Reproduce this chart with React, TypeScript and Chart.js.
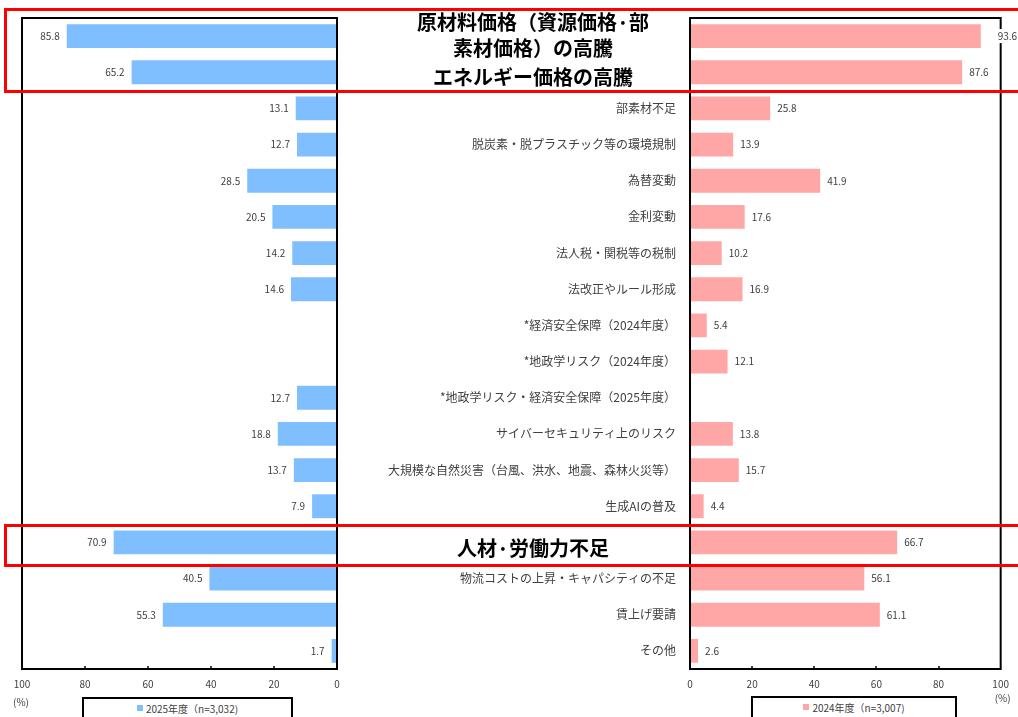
import { useEffect, useRef } from 'react';
import { Chart, registerables } from 'chart.js';

Chart.register(...registerables);

const categories = [
  '原材料価格（資源価格·部素材価格）の高騰',
  'エネルギー価格の高騰',
  '部素材不足',
  '脱炭素・脱プラスチック等の環境規制',
  '為替変動',
  '金利変動',
  '法人税・関税等の税制',
  '法改正やルール形成',
  '*経済安全保障（2024年度）',
  '*地政学リスク（2024年度）',
  '*地政学リスク・経済安全保障（2025年度）',
  'サイバーセキュリティ上のリスク',
  '大規模な自然災害（台風、洪水、地震、森林火災等）',
  '生成AIの普及',
  '人材·労働力不足',
  '物流コストの上昇・キャパシティの不足',
  '賃上げ要請',
  'その他',
];

const values2025: (number | null)[] = [85.8, 65.2, 13.1, 12.7, 28.5, 20.5, 14.2, 14.6, null, null, 12.7, 18.8, 13.7, 7.9, 70.9, 40.5, 55.3, 1.7];
const values2024: (number | null)[] = [93.6, 87.6, 25.8, 13.9, 41.9, 17.6, 10.2, 16.9, 5.4, 12.1, null, 13.8, 15.7, 4.4, 66.7, 56.1, 61.1, 2.6];

const highlightedRows = [0, 1, 14];
const wrappedLabels: Record<number, string[]> = {
  0: ['原材料価格（資源価格·部', '素材価格）の高騰'],
};

const legend2025 = '2025年度（n=3,032)';
const legend2024 = '2024年度（n=3,007)';
const axisUnit = '(%)';
const axisMin = 0;
const axisMax = 100;
const axisStep = 20;

const BLUE = '#80BFFF';
const PINK = '#FFA7A7';
const TEXT = '#404040';
const FONT = '"Noto Sans CJK JP", "Noto Sans", sans-serif';

const W = 1018;
const H = 717;

function framePlugin(unitPos: 'left' | 'right') {
  return {
    id: 'frame-' + unitPos,
    afterDraw(chart: any) {
      const { ctx, chartArea } = chart;
      const xs = chart.scales.x;
      ctx.save();
      ctx.strokeStyle = '#000';
      ctx.lineWidth = 2;
      ctx.strokeRect(chartArea.left, chartArea.top, chartArea.right - chartArea.left, chartArea.bottom - chartArea.top);
      ctx.lineWidth = 1.5;
      xs.ticks.forEach((t: any) => {
        if (t.value === axisMin || t.value === axisMax) return;
        const px = Math.round(xs.getPixelForValue(t.value));
        ctx.beginPath();
        ctx.moveTo(px, chartArea.bottom);
        ctx.lineTo(px, chartArea.bottom - 3);
        ctx.stroke();
      });
      ctx.fillStyle = TEXT;
      ctx.font = `10px ${FONT}`;
      ctx.textAlign = 'center';
      ctx.textBaseline = 'middle';
      if (unitPos === 'left') {
        ctx.fillText(axisUnit, chartArea.left - 1, chartArea.bottom + 33);
      } else {
        ctx.fillText(axisUnit, chartArea.right + 2, chartArea.bottom + 29);
      }
      ctx.restore();
    },
  };
}

function dataLabelPlugin(side: 'left' | 'right') {
  return {
    id: 'datalabels-' + side,
    afterDraw(chart: any) {
      const { ctx, chartArea } = chart;
      const meta = chart.getDatasetMeta(0);
      const data = chart.data.datasets[0].data;
      ctx.save();
      ctx.font = `10px ${FONT}`;
      ctx.textBaseline = 'middle';
      meta.data.forEach((bar: any, i: number) => {
        const v = data[i];
        if (v === null || v === undefined) return;
        const label = v.toFixed(1);
        const w = ctx.measureText(label).width;
        if (side === 'left') {
          ctx.textAlign = 'right';
          ctx.fillStyle = TEXT;
          ctx.fillText(label, bar.x - 7, bar.y);
        } else {
          let x = bar.x + 7;
          ctx.textAlign = 'left';
          if (x + w > chartArea.right - 2) {
            x = Math.max(x, chartArea.right - 3);
            ctx.fillStyle = '#fff';
            ctx.fillRect(x - 1, bar.y - 7, w + 2, 14);
          }
          ctx.fillStyle = TEXT;
          ctx.fillText(label, x, bar.y);
        }
      });
      ctx.restore();
    },
  };
}

const categoryLabelPlugin = {
  id: 'categoryLabels',
  afterDraw(chart: any) {
    const { ctx, chartArea } = chart;
    const ys = chart.scales.y;
    ctx.save();
    ctx.textBaseline = 'middle';
    categories.forEach((cat, i) => {
      const y = ys.getPixelForValue(i);
      if (highlightedRows.includes(i)) {
        ctx.font = `bold 20px ${FONT}`;
        ctx.fillStyle = '#000';
        ctx.textAlign = 'center';
        const cx = chartArea.left - 157;
        const lines = wrappedLabels[i];
        if (lines) {
          ctx.fillText(lines[0], cx, y - 13.5);
          ctx.fillText(lines[1], cx, y + 12.5);
        } else {
          ctx.fillText(cat, cx, y + 5.5);
        }
      } else {
        ctx.font = `12px ${FONT}`;
        ctx.fillStyle = TEXT;
        ctx.textAlign = 'right';
        ctx.fillText(cat, chartArea.left - 14, y);
      }
    });
    ctx.restore();
  },
};

function makeConfig(values: (number | null)[], color: string, reverse: boolean, padding: any, plugins: any[]) {
  return {
    type: 'bar' as const,
    data: {
      labels: categories,
      datasets: [
        {
          data: values,
          backgroundColor: color,
          borderWidth: 0,
          barPercentage: 0.66,
          categoryPercentage: 1,
        },
      ],
    },
    options: {
      indexAxis: 'y' as const,
      animation: false as const,
      responsive: false,
      devicePixelRatio: 1,
      events: [],
      layout: { padding },
      plugins: {
        legend: { display: false },
        tooltip: { enabled: false },
      },
      scales: {
        x: {
          min: axisMin,
          max: axisMax,
          reverse,
          grid: { display: false, drawTicks: false },
          border: { display: false },
          ticks: {
            stepSize: axisStep,
            padding: 9,
            maxRotation: 0,
            color: TEXT,
            font: { family: FONT, size: 10 },
          },
          afterFit: (scale: any) => {
            scale.height = 48;
          },
        },
        y: { display: false },
      },
    },
    plugins,
  };
}

export default function App() {
  const leftRef = useRef<HTMLCanvasElement>(null);
  const rightRef = useRef<HTMLCanvasElement>(null);

  useEffect(() => {
    const left = new Chart(
      leftRef.current!,
      makeConfig(values2025, BLUE, true, { left: 22, right: W - 337, top: 18, bottom: 0 }, [
        framePlugin('left'),
        dataLabelPlugin('left'),
      ]) as any
    );
    const right = new Chart(
      rightRef.current!,
      makeConfig(values2024, PINK, false, { left: 690, right: W - 1004, top: 18, bottom: 0 }, [
        framePlugin('right'),
        dataLabelPlugin('right'),
        categoryLabelPlugin,
      ]) as any
    );
    return () => {
      left.destroy();
      right.destroy();
    };
  }, []);

  const legendBox = (left: number, top: number, width: number, color: string, text: string) => (
    <div
      style={{
        position: 'absolute',
        left,
        top,
        width,
        height: 40,
        border: '2px solid #000',
        boxSizing: 'border-box',
        display: 'flex',
        justifyContent: 'center',
        alignItems: 'flex-start',
        paddingTop: 2,
        fontFamily: FONT,
        fontSize: 10,
        color: TEXT,
        background: '#fff',
      }}
    >
      <span style={{ display: 'flex', alignItems: 'center', height: 14 }}>
        <span style={{ width: 6, height: 6, background: color, marginRight: 3, display: 'inline-block' }} />
        <span>{text}</span>
      </span>
    </div>
  );

  return (
    <div style={{ position: 'absolute', left: 0, top: 0, width: W, height: H, overflow: 'hidden', background: '#fff' }}>
      <canvas ref={leftRef} width={W} height={H} style={{ position: 'absolute', left: 0, top: 0, width: W, height: H }} />
      <canvas ref={rightRef} width={W} height={H} style={{ position: 'absolute', left: 0, top: 0, width: W, height: H }} />
      <div style={{ position: 'absolute', left: 4, top: 8, width: 1040, height: 85, border: '3px solid #FF0000', boxSizing: 'border-box' }} />
      <div style={{ position: 'absolute', left: 4, top: 524, width: 1040, height: 43, border: '3px solid #FF0000', boxSizing: 'border-box' }} />
      {legendBox(82, 697, 211, BLUE, legend2025)}
      {legendBox(751, 696, 206, PINK, legend2024)}
    </div>
  );
}
